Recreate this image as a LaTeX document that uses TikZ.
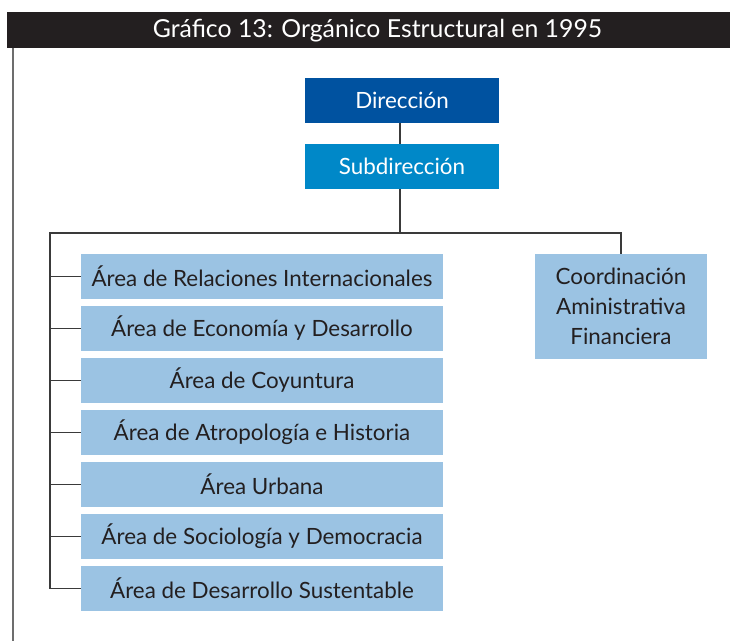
\documentclass[tikz,border=0pt]{standalone}
\usepackage{fontspec}
\setmainfont{Lato}
\definecolor{titlebg}{HTML}{231F20}
\definecolor{dirblue}{HTML}{0052A0}
\definecolor{subblue}{HTML}{0088C8}
\definecolor{areablue}{HTML}{9BC3E3}
\definecolor{txt}{HTML}{231F20}
\definecolor{conn}{HTML}{3A3A3A}
\definecolor{pageline}{HTML}{6D6D6D}
\begin{document}
\begin{tikzpicture}[x=1pt,y=-1pt,
  topbox/.style={rectangle, inner sep=0pt, minimum width=194pt, minimum height=45pt, text=white, font=\fontsize{22.4}{26}\selectfont},
  areabox/.style={rectangle, fill=areablue, inner sep=0pt, minimum width=362pt, minimum height=45pt, text=txt, font=\fontsize{22.4}{26}\selectfont},
  coordbox/.style={rectangle, fill=areablue, inner sep=0pt, minimum width=172pt, minimum height=105pt, text=txt, align=center, font=\fontsize{22.4}{30}\selectfont},
  link/.style={draw=conn, line width=1.3pt}]
\useasboundingbox (0,0) rectangle (730,641);
% title bar
\node[rectangle, fill=titlebg, inner sep=0pt, minimum width=723pt, minimum height=36pt, anchor=north west] (bar) at (7,12) {};
\node[text=white, font=\fontsize{24.8}{28}\selectfont] (title) at (377.5,30.5) {Gráfico 13: Orgánico Estructural en 1995};
% page line
\coordinate (pl1) at (13,48);
\coordinate (pl2) at (13,641);
\draw[pageline, line width=2pt] (pl1) -- (pl2);
% top boxes
\node[topbox, fill=dirblue] (dir) at (402,100.5) {Dirección};
\node[topbox, fill=subblue] (sub) at (402,166.5) {Subdirección};
% coordination
\node[coordbox] (coord) at (621,306.5) {Coordinación\\Aministrativa\\Financiera};
% areas
\node[areabox] (a1) at (262,276.5) {Área de Relaciones Internacionales};
\node[areabox] (a2) at (262,328.5) {Área de Economía y Desarrollo};
\node[areabox] (a3) at (262,380.5) {Área de Coyuntura};
\node[areabox] (a4) at (262,432.5) {Área de Atropología e Historia};
\node[areabox] (a5) at (262,484.5) {Área Urbana};
\node[areabox] (a6) at (262,536.5) {Área de Sociología y Democracia};
\node[areabox] (a7) at (262,588.5) {Área de Desarrollo Sustentable};
% connectors
\coordinate (busL) at (50,233);
\coordinate (busR) at (621,233);
\draw[link] (dir.south -| 400,0) -- (sub.north -| 400,0);
\draw[link] (sub.south -| 400,0) -- (busL -| 400,0);
\draw[link] (coord.north) -- (busR) -- (busL) |- (a7.west);
\foreach \k in {1,...,6} {
  \draw[link] (busL |- a\k.west) -- (a\k.west);
}
\end{tikzpicture}
\end{document}
